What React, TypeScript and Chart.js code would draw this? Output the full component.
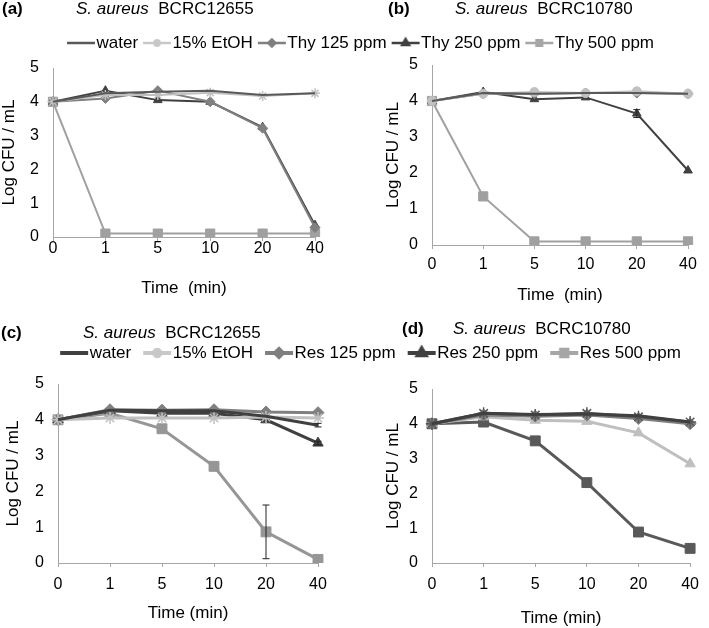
import React, { useEffect, useRef } from 'react';
import { Chart, registerables } from 'chart.js';
import { drawPoint } from 'chart.js/helpers';

Chart.register(...registerables);

const FONT = '"Liberation Sans", Arial, sans-serif';
Chart.defaults.font.family = FONT;

// ---------- data ----------
const timeLabels = ['0', '1', '5', '10', '20', '40'];
const thyLegendLabels = ['water', '15% EtOH', 'Thy 125 ppm', 'Thy 250 ppm', 'Thy 500 ppm'];
const resLegendLabels = ['water', '15% EtOH', 'Res 125 ppm', 'Res 250 ppm', 'Res 500 ppm'];

// (a) Thymol, S. aureus BCRC12655
const aWater = [4.0, 4.25, 4.3, 4.33, 4.2, 4.25];
const aEtOH = [4.0, 4.2, 4.2, 4.27, 4.17, 4.25];
const aThy125 = [4.0, 4.1, 4.33, 4.0, 3.22, 0.28];
const aThy250 = [4.0, 4.33, 4.05, 4.0, 3.25, 0.35];
const aThy500 = [4.0, 0.1, 0.1, 0.1, 0.1, 0.1];

// (b) Thymol, S. aureus BCRC10780
const bWater = [4.0, 4.22, 4.2, 4.22, 4.22, 4.2];
const bEtOH = [4.0, 4.2, 4.25, 4.22, 4.27, 4.2];
const bThy125 = [4.0, 4.2, 4.2, 4.22, 4.22, 4.2];
const bThy250 = [4.0, 4.25, 4.05, 4.1, 3.65, 2.07];
const bThy500 = [4.0, 1.35, 0.1, 0.1, 0.1, 0.1];
const bThy250Err = [0, 0, 0, 0, 0.11, 0];

// (c) Resveratrol, S. aureus BCRC12655
const cWater = [4.0, 4.27, 4.25, 4.25, 4.1, 3.85];
const cEtOH = [4.0, 4.05, 4.05, 4.05, 4.08, 4.05];
const cRes125 = [4.0, 4.28, 4.27, 4.28, 4.22, 4.2];
const cRes250 = [4.0, 4.25, 4.18, 4.18, 4.0, 3.35];
const cRes500 = [4.0, 4.18, 3.75, 2.7, 0.87, 0.1];
const cWaterErr = [0, 0, 0, 0, 0, 0.05];
const cRes250Err = [0, 0, 0, 0, 0, 0.05];
const cRes500Err = [0, 0, 0, 0, 0.75, 0];

// (d) Resveratrol, S. aureus BCRC10780
const dWater = [4.0, 4.3, 4.27, 4.28, 4.23, 4.05];
const dEtOH = [4.0, 4.3, 4.25, 4.3, 4.2, 4.05];
const dRes125 = [4.0, 4.25, 4.22, 4.25, 4.15, 4.0];
const dRes250 = [4.0, 4.2, 4.1, 4.07, 3.74, 2.85];
const dRes500 = [4.0, 4.05, 3.51, 2.31, 0.89, 0.42];

const AXIS = '#a6a6a6';

// ---------- plugins ----------
const panelHead = {
  id: 'panelHead',
  afterDraw(chart: any, _args: any, o: any) {
    const ctx = chart.ctx;
    ctx.save();
    ctx.fillStyle = '#000';
    ctx.textBaseline = 'middle';
    ctx.textAlign = 'left';
    ctx.font = `bold 17px ${FONT}`;
    ctx.fillText(o.tag, o.tagX, o.y);
    ctx.font = `italic 17px ${FONT}`;
    ctx.fillText(o.italic, o.textX, o.y);
    const w = ctx.measureText(o.italic).width;
    ctx.font = `17px ${FONT}`;
    ctx.fillText(o.rest, o.textX + w + 9.5, o.y);
    ctx.restore();
  },
};

const errBars = {
  id: 'errBars',
  afterDatasetsDraw(chart: any) {
    const ctx = chart.ctx;
    const ys = chart.scales.y;
    chart.data.datasets.forEach((ds: any, i: number) => {
      if (!ds.errors) return;
      const meta = chart.getDatasetMeta(i);
      ds.errors.forEach((e: number, j: number) => {
        if (!e) return;
        const v = ds.data[j];
        const x = meta.data[j].x;
        const y1 = ys.getPixelForValue(v - e);
        const y2 = ys.getPixelForValue(v + e);
        ctx.save();
        ctx.strokeStyle = '#222';
        ctx.lineWidth = 1;
        ctx.beginPath();
        ctx.moveTo(x, y1);
        ctx.lineTo(x, y2);
        ctx.moveTo(x - 3.5, y1);
        ctx.lineTo(x + 3.5, y1);
        ctx.moveTo(x - 3.5, y2);
        ctx.lineTo(x + 3.5, y2);
        ctx.stroke();
        ctx.restore();
      });
    });
  },
};

// ---------- helpers ----------
type Series = { label: string; data: number[]; color: string; style: string | false; r: number; errors?: number[] };
type Geo = {
  w: number; h: number; plotL: number; plotR: number; plotT: number; plotB: number;
  tickGap: number; xTitleY: number; yTitleX: number; xTitle: string; lw: number;
  head: any;
};

function panelConfig(series: Series[], g: Geo): any {
  const tl = 4;
  return {
    type: 'line',
    data: {
      labels: timeLabels,
      datasets: series.map((s) => ({
        label: s.label,
        data: s.data,
        errors: s.errors,
        borderColor: s.color,
        backgroundColor: s.color,
        borderWidth: g.lw,
        pointStyle: s.style || 'circle',
        pointRadius: s.style ? s.r : 0,
        pointBorderWidth: s.style === 'star' ? 1.5 : 1,
        pointBackgroundColor: s.color,
        pointBorderColor: s.color,
        fill: false,
        tension: 0,
      })),
    },
    options: {
      responsive: false,
      animation: false,
      events: [],
      layout: {
        padding: {
          left: g.yTitleX - 8.5,
          top: g.plotT,
          right: g.w - g.plotR,
          bottom: g.h - (g.xTitleY + 8.5),
        },
      },
      plugins: {
        legend: { display: false },
        tooltip: { enabled: false },
        panelHead: g.head,
      },
      scales: {
        x: {
          type: 'category',
          offset: false,
          grid: { display: true, drawOnChartArea: false, drawTicks: true, tickLength: tl, color: AXIS },
          border: { display: true, color: AXIS, width: 1 },
          ticks: {
            color: '#000',
            font: { size: 16, lineHeight: 1 },
            padding: g.tickGap - tl - 8,
            maxRotation: 0,
            autoSkip: false,
          },
          title: { display: true, text: g.xTitle, color: '#000', font: { size: 17, lineHeight: 1 }, padding: 0 },
          afterFit: (s: any) => {
            s.height = g.xTitleY + 8.5 - g.plotB;
          },
        },
        y: {
          min: 0,
          max: 5,
          ticks: { stepSize: 1, padding: 6, color: '#000', font: { size: 16, lineHeight: 1 } },
          grid: { display: false },
          border: { display: true, color: AXIS, width: 1 },
          title: { display: true, text: 'Log CFU / mL', color: '#000', font: { size: 17, lineHeight: 1 }, padding: 0 },
          afterFit: (s: any) => {
            s.width = g.plotL - (g.yTitleX - 8.5);
          },
        },
      },
    },
    plugins: [panelHead, errBars],
  };
}

type IconSpec = { color: string; lw: number; style: string | false; r: number };

function makeIcon(spec: IconSpec, P: number, s: number, e: number) {
  const half = Math.max(P / 2 - s, e - P / 2) + 3;
  const W = Math.ceil(half * 2);
  const H = 18;
  const c = document.createElement('canvas');
  c.width = W;
  c.height = H;
  const ctx = c.getContext('2d')!;
  const cx = W / 2;
  const x1 = cx + (s - P / 2);
  const x2 = cx + (e - P / 2);
  ctx.strokeStyle = spec.color;
  ctx.fillStyle = spec.color;
  ctx.lineWidth = spec.lw;
  ctx.beginPath();
  ctx.moveTo(x1, H / 2);
  ctx.lineTo(x2, H / 2);
  ctx.stroke();
  if (spec.style) {
    drawPoint(ctx as any, { pointStyle: spec.style as any, radius: spec.r, rotation: 0, borderWidth: spec.style === 'star' ? 1.3 : 1 }, (x1 + x2) / 2, H / 2);
  }
  return c;
}

function legendConfig(labels: string[], icons: IconSpec[], P: number, s: number, e: number, pl: number, pt: number): any {
  const imgs = icons.map((ic) => makeIcon(ic, P, s, e));
  return {
    type: 'line',
    data: { labels: [], datasets: labels.map((l) => ({ label: l, data: [] })) },
    options: {
      responsive: false,
      animation: false,
      events: [],
      layout: { padding: { left: pl, right: 0, top: pt, bottom: 0 } },
      scales: { x: { display: false }, y: { display: false } },
      plugins: {
        tooltip: { enabled: false },
        legend: {
          display: true,
          position: 'top',
          align: 'center',
          labels: {
            usePointStyle: true,
            pointStyleWidth: P,
            boxHeight: 17,
            padding: 2,
            color: '#000',
            font: { size: 17 },
            generateLabels: (chart: any) =>
              chart.data.datasets.map((ds: any, i: number) => ({
                text: ds.label,
                pointStyle: imgs[i],
                fillStyle: 'rgba(0,0,0,0)',
                strokeStyle: 'rgba(0,0,0,0)',
                lineWidth: 0,
                hidden: false,
                datasetIndex: i,
                fontColor: '#000',
              })),
          },
        },
      },
    },
  };
}

function ChartCanvas(props: { left: number; top: number; width: number; height: number; make: () => any }) {
  const ref = useRef<HTMLCanvasElement>(null);
  useEffect(() => {
    const chart = new Chart(ref.current as HTMLCanvasElement, props.make());
    return () => chart.destroy();
  }, []);
  return (
    <canvas
      ref={ref}
      width={props.width}
      height={props.height}
      style={{ position: 'absolute', left: props.left, top: props.top, width: props.width, height: props.height }}
    />
  );
}

// ---------- panels ----------
const seriesA: Series[] = [
  { label: 'water', data: aWater, color: '#595959', style: false, r: 0 },
  { label: '15% EtOH', data: aEtOH, color: '#c0c0c0', style: 'star', r: 5 },
  { label: 'Thy 125 ppm', data: aThy125, color: '#808080', style: 'rectRot', r: 5 },
  { label: 'Thy 250 ppm', data: aThy250, color: '#404040', style: 'triangle', r: 5 },
  { label: 'Thy 500 ppm', data: aThy500, color: '#a0a0a0', style: 'rect', r: 6.5 },
];
const seriesB: Series[] = [
  { label: 'water', data: bWater, color: '#595959', style: false, r: 0 },
  { label: '15% EtOH', data: bEtOH, color: '#c0c0c0', style: 'circle', r: 4.5 },
  { label: 'Thy 125 ppm', data: bThy125, color: '#808080', style: 'rectRot', r: 5 },
  { label: 'Thy 250 ppm', data: bThy250, color: '#404040', style: 'triangle', r: 5, errors: bThy250Err },
  { label: 'Thy 500 ppm', data: bThy500, color: '#a0a0a0', style: 'rect', r: 6.5 },
];
const seriesC: Series[] = [
  { label: 'water', data: cWater, color: '#404040', style: false, r: 0, errors: cWaterErr },
  { label: '15% EtOH', data: cEtOH, color: '#c0c0c0', style: 'star', r: 6 },
  { label: 'Res 125 ppm', data: cRes125, color: '#808080', style: 'rectRot', r: 6 },
  { label: 'Res 250 ppm', data: cRes250, color: '#404040', style: 'triangle', r: 6, errors: cRes250Err },
  { label: 'Res 500 ppm', data: cRes500, color: '#969696', style: 'rect', r: 7, errors: cRes500Err },
];
const seriesD: Series[] = [
  { label: 'water', data: dWater, color: '#404040', style: false, r: 0 },
  { label: '15% EtOH', data: dEtOH, color: '#595959', style: 'star', r: 6 },
  { label: 'Res 125 ppm', data: dRes125, color: '#808080', style: 'rectRot', r: 6 },
  { label: 'Res 250 ppm', data: dRes250, color: '#bfbfbf', style: 'triangle', r: 6 },
  { label: 'Res 500 ppm', data: dRes500, color: '#595959', style: 'rect', r: 7 },
];

const geoA: Geo = {
  w: 350, h: 312, plotL: 53, plotR: 315, plotT: 68, plotB: 237, tickGap: 12, xTitleY: 288, yTitleX: 9,
  xTitle: 'Time  (min)', lw: 2,
  head: { tag: '(a)', tagX: 2, textX: 76, y: 9, italic: 'S. aureus', rest: 'BCRC12655' },
};
const geoB: Geo = {
  w: 359, h: 312, plotL: 82, plotR: 338, plotT: 65, plotB: 245, tickGap: 20, xTitleY: 295, yTitleX: 43,
  xTitle: 'Time  (min)', lw: 2,
  head: { tag: '(b)', tagX: 38, textX: 105, y: 9, italic: 'S. aureus', rest: 'BCRC10780' },
};
const geoC: Geo = {
  w: 350, h: 328, plotL: 58, plotR: 318, plotT: 84, plotB: 263, tickGap: 22, xTitleY: 313, yTitleX: 13,
  xTitle: 'Time (min)', lw: 3,
  head: { tag: '(c)', tagX: 1, textX: 83, y: 33, italic: 'S. aureus', rest: 'BCRC12655' },
};
const geoD: Geo = {
  w: 359, h: 328, plotL: 82, plotR: 348, plotT: 89, plotB: 263, tickGap: 22, xTitleY: 318, yTitleX: 43,
  xTitle: 'Time (min)', lw: 3,
  head: { tag: '(d)', tagX: 52, textX: 103, y: 29, italic: 'S. aureus', rest: 'BCRC10780' },
};

const thyIcons: IconSpec[] = [
  { color: '#595959', lw: 2.5, style: false, r: 0 },
  { color: '#c8c8c8', lw: 2.5, style: 'star', r: 4 },
  { color: '#7f7f7f', lw: 2.5, style: 'rectRot', r: 3.5 },
  { color: '#404040', lw: 2.5, style: 'triangle', r: 4 },
  { color: '#a6a6a6', lw: 2.5, style: 'rect', r: 4 },
];
const resIcons: IconSpec[] = [
  { color: '#404040', lw: 4, style: false, r: 0 },
  { color: '#c8c8c8', lw: 4, style: 'star', r: 5 },
  { color: '#7f7f7f', lw: 4, style: 'rectRot', r: 4 },
  { color: '#404040', lw: 4, style: 'triangle', r: 4.5 },
  { color: '#a6a6a6', lw: 4, style: 'rect', r: 4.5 },
];

export default function App() {
  return (
    <div style={{ position: 'absolute', left: 0, top: 0, width: 709, height: 628, background: '#fff', overflow: 'hidden' }}>
      <ChartCanvas left={0} top={300} width={350} height={328} make={() => panelConfig(seriesC, geoC)} />
      <ChartCanvas left={350} top={300} width={359} height={328} make={() => panelConfig(seriesD, geoD)} />
      <ChartCanvas left={0} top={0} width={350} height={312} make={() => panelConfig(seriesA, geoA)} />
      <ChartCanvas left={350} top={0} width={359} height={312} make={() => panelConfig(seriesB, geoB)} />
      <ChartCanvas left={0} top={20} width={709} height={90} make={() => legendConfig(thyLegendLabels, thyIcons, 24, 3, 31, 9, 12.5)} />
      <ChartCanvas left={0} top={320} width={709} height={100} make={() => legendConfig(resLegendLabels, resIcons, 31, 10, 38, 22, 22.5)} />
    </div>
  );
}
